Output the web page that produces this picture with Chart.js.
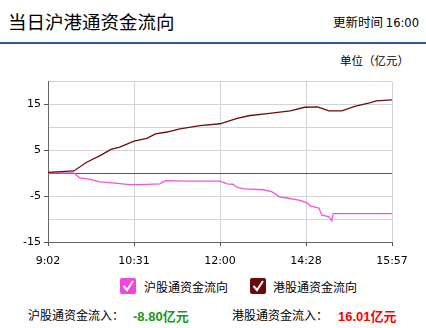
<!DOCTYPE html>
<html>
<head>
<meta charset="utf-8">
<script src="https://cdn.jsdelivr.net/npm/chart.js@4/dist/chart.umd.min.js"></script>
<style>
  html,body{margin:0;padding:0;background:#fff;}
  body{width:426px;height:328px;position:relative;overflow:hidden;font-family:"Noto Sans CJK SC","Noto Sans",sans-serif;color:#000;}
  .abs{position:absolute;white-space:nowrap;line-height:1;}
  #title{left:8px;top:12px;font-size:18.5px;}
  #upd{left:333px;top:16px;font-size:12.5px;}
  #upd span{font-family:"DejaVu Sans",sans-serif;font-size:11.5px;}
  #bar{left:0;top:42px;width:426px;height:2px;background:#2f5c99;}
  #unit{left:340px;top:55px;font-size:11.5px;}
  #wrap{position:absolute;left:0;top:72px;width:426px;height:200px;}
  .box{position:absolute;width:16px;height:16px;border-radius:2px;}
  .box svg{position:absolute;left:0;top:0;}
  .leg{font-size:12px;}
  .val{font-family:"Liberation Sans","Noto Sans",sans-serif;font-weight:bold;font-size:13px;}
  .val b{font-family:"Noto Sans CJK SC";font-weight:bold;font-size:13px;}
</style>
</head>
<body>
<div id="title" class="abs">当日沪港通资金流向</div>
<div id="upd" class="abs">更新时间 <span>16:00</span></div>
<div id="bar" class="abs"></div>
<div id="unit" class="abs">单位（亿元）</div>
<div id="wrap"><canvas id="c"></canvas></div>

<div class="box abs" style="left:120px;top:278px;background:#f046e0;"><svg width="16" height="16"><polyline points="3.5,8 7,12 13,3" fill="none" stroke="#fff" stroke-width="2"/></svg></div>
<div class="abs leg" style="left:144px;top:281px;">沪股通资金流向</div>
<div class="box abs" style="left:250px;top:278px;background:#6a0a0a;"><svg width="16" height="16"><polyline points="3.5,8 7,12 13,3" fill="none" stroke="#fff" stroke-width="2"/></svg></div>
<div class="abs leg" style="left:273px;top:281px;">港股通资金流向</div>

<div class="abs leg" style="left:28px;top:309px;">沪股通资金流入：</div>
<div class="abs val" style="left:133px;top:309px;color:#1a9a1a;">-8.80<b>亿元</b></div>
<div class="abs leg" style="left:232px;top:309px;">港股通资金流入：</div>
<div class="abs val" style="left:338px;top:309px;color:#ff0000;">16.01<b>亿元</b></div>

<script>
// x positions are minute indices along the session axis (0..240)
const tickPositions = [0, 60, 120, 180, 240];
const tickLabels = ["9:02", "10:31", "12:00", "14:28", "15:57"];

const hkMinutes = [0, 18, 27, 36, 44, 50, 60, 69, 75, 83, 92, 106, 120, 132, 141, 153, 169, 179, 188, 196, 205, 214, 225, 229, 240];
const hkValues  = [0.2, 0.5, 2.4, 3.8, 5.2, 5.7, 7.0, 7.6, 8.6, 9.0, 9.7, 10.4, 10.8, 12.0, 12.6, 13.0, 13.6, 14.4, 14.5, 13.6, 13.6, 14.6, 15.4, 15.8, 16.01];

const shMinutes = [0, 18, 22, 29, 36, 45, 57, 64, 78, 82, 97, 120, 125, 129, 132, 137, 150, 156, 162, 167, 176, 181, 183, 189, 191, 196, 198, 199, 240];
const shValues  = [0.1, 0.1, -1.0, -1.3, -1.9, -2.1, -2.5, -2.5, -2.3, -1.6, -1.7, -1.7, -2.3, -2.4, -3.1, -3.4, -3.6, -4.0, -5.2, -5.4, -5.9, -6.5, -7.1, -7.6, -9.1, -9.5, -10.4, -8.8, -8.8];

const seriesNames = ["沪股通资金流向", "港股通资金流向"];

const toXY = (xs, ys) => xs.map((x, i) => ({x: x, y: ys[i]}));

new Chart(document.getElementById('c'), {
  type: 'line',
  data: {
    datasets: [
      {label: seriesNames[1], data: toXY(hkMinutes, hkValues), borderColor: '#6b0d0d', borderWidth: 1.3, pointRadius: 0, tension: 0},
      {label: seriesNames[0], data: toXY(shMinutes, shValues), borderColor: '#f055e0', borderWidth: 1.3, pointRadius: 0, tension: 0}
    ]
  },
  options: {
    responsive: true,
    maintainAspectRatio: false,
    animation: false,
    layout: {padding: {top: 8, right: 34, left: 0, bottom: 0}},
    plugins: {legend: {display: false}, tooltip: {enabled: false}},
    scales: {
      x: {
        type: 'linear', min: 0, max: 240,
        afterBuildTicks: (s) => { s.ticks = tickPositions.map(v => ({value: v})); },
        afterFit: (s) => { s.height = 30; },
        ticks: {
          autoSkip: false, maxRotation: 0, padding: 9,
          color: '#000',
          font: {family: 'DejaVu Sans', size: 11},
          callback: (v) => { const i = tickPositions.indexOf(v); return i >= 0 ? tickLabels[i] : ''; }
        },
        grid: {color: '#d4d4d4', tickColor: '#555', tickLength: 4, lineWidth: 1},
        border: {color: '#666', width: 1}
      },
      y: {
        min: -15, max: 20,
        afterFit: (s) => { s.width = 48; },
        ticks: {
          stepSize: 5, color: '#000', padding: 3,
          font: {family: 'DejaVu Sans', size: 11},
          callback: (v) => (Math.abs(v) % 10 === 5 ? String(v) : '')
        },
        grid: {
          color: (ctx) => (ctx.tick && ctx.tick.value === 0 ? '#555' : '#d4d4d4'),
          tickColor: (ctx) => (ctx.tick && Math.abs(ctx.tick.value) % 10 === 5 ? '#555' : 'rgba(0,0,0,0)'),
          tickLength: 4, lineWidth: 1
        },
        border: {color: '#666', width: 1}
      }
    }
  }
});
</script>
</body>
</html>
